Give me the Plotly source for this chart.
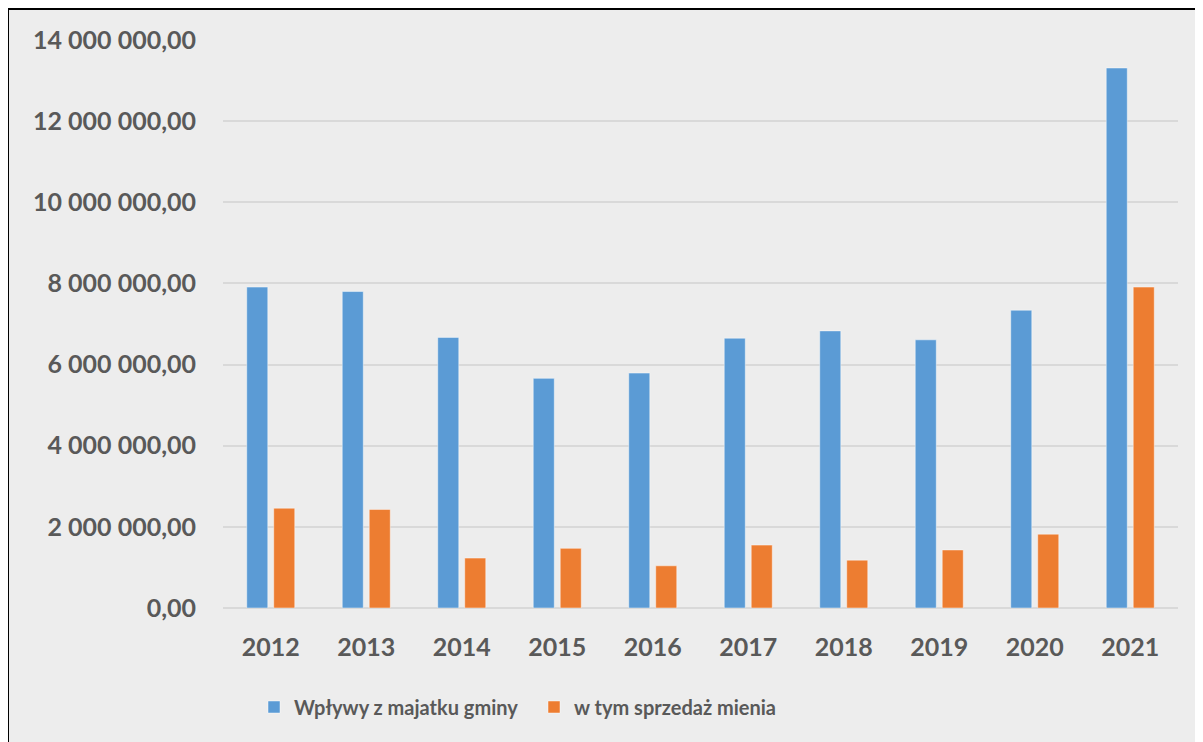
import plotly.graph_objects as go

years = ["2012", "2013", "2014", "2015", "2016", "2017", "2018", "2019", "2020", "2021"]
wplywy = [7.91e6, 7.80e6, 6.67e6, 5.66e6, 5.79e6, 6.65e6, 6.83e6, 6.61e6, 7.34e6, 13.31e6]
sprzedaz = [2.46e6, 2.43e6, 1.23e6, 1.47e6, 1.04e6, 1.55e6, 1.18e6, 1.43e6, 1.82e6, 7.91e6]
tick_vals = [0, 2e6, 4e6, 6e6, 8e6, 10e6, 12e6, 14e6]
tick_text = ["0,00", "2 000 000,00", "4 000 000,00", "6 000 000,00", "8 000 000,00",
             "10 000 000,00", "12 000 000,00", "14 000 000,00"]
names = ["Wpływy z majatku gminy", "w tym sprzedaż mienia"]

OFF = 8  # browser body margin
W, H = 1195, 734
ml, mt = 223 - OFF, 40 - OFF
mr = W - (1178 - OFF)
mb = H - (608 - OFF)
pw, ph = W - ml - mr, H - mt - mb

def px2x(px):
    return (px - OFF - ml) / pw

def px2y(py):
    return (H - mb - (py - OFF)) / ph

FONT = "Lato"
GREY = "#595959"

fig = go.Figure()
fig.add_trace(go.Bar(x=years, y=wplywy, name=names[0],
                     marker=dict(color="#5B9BD5", line=dict(color="rgba(255,255,255,0.45)", width=1))))
fig.add_trace(go.Bar(x=years, y=sprzedaz, name=names[1],
                     marker=dict(color="#ED7D31", line=dict(color="rgba(255,255,255,0.45)", width=1))))

fig.add_shape(type="rect", xref="paper", yref="paper",
              x0=px2x(8), x1=px2x(1220), y0=px2y(770), y1=px2y(9),
              line=dict(color="black", width=2), fillcolor="#EDEDED", layer="below")

fig.update_layout(
    width=W, height=H,
    margin=dict(l=ml, r=mr, t=mt, b=mb),
    paper_bgcolor="white", plot_bgcolor="rgba(0,0,0,0)",
    barmode="group", bargap=0.435, bargroupgap=0.22,
    font=dict(family=FONT, color=GREY, size=20),
    showlegend=True,
    legend=dict(orientation="h", x=px2x(254), xanchor="left", y=px2y(707), yanchor="middle",
                font=dict(family=FONT, size=20, color=GREY, weight="bold"),
                bgcolor="rgba(0,0,0,0)", entrywidth=235, itemwidth=30),
    xaxis=dict(showgrid=False, showline=False, ticks="", ticklabelstandoff=22,
               tickfont=dict(family=FONT, size=25, color=GREY, weight="bold")),
    yaxis=dict(range=[0, 14e6], tickvals=tick_vals, ticktext=tick_text,
               showgrid=True, gridcolor="#D9D9D9", gridwidth=2,
               zeroline=True, zerolinecolor="#D9D9D9", zerolinewidth=2,
               showline=False, ticks="", ticklabelstandoff=26,
               tickfont=dict(family=FONT, size=25, color=GREY, weight="bold")),
)

fig.write_html("out.html")
